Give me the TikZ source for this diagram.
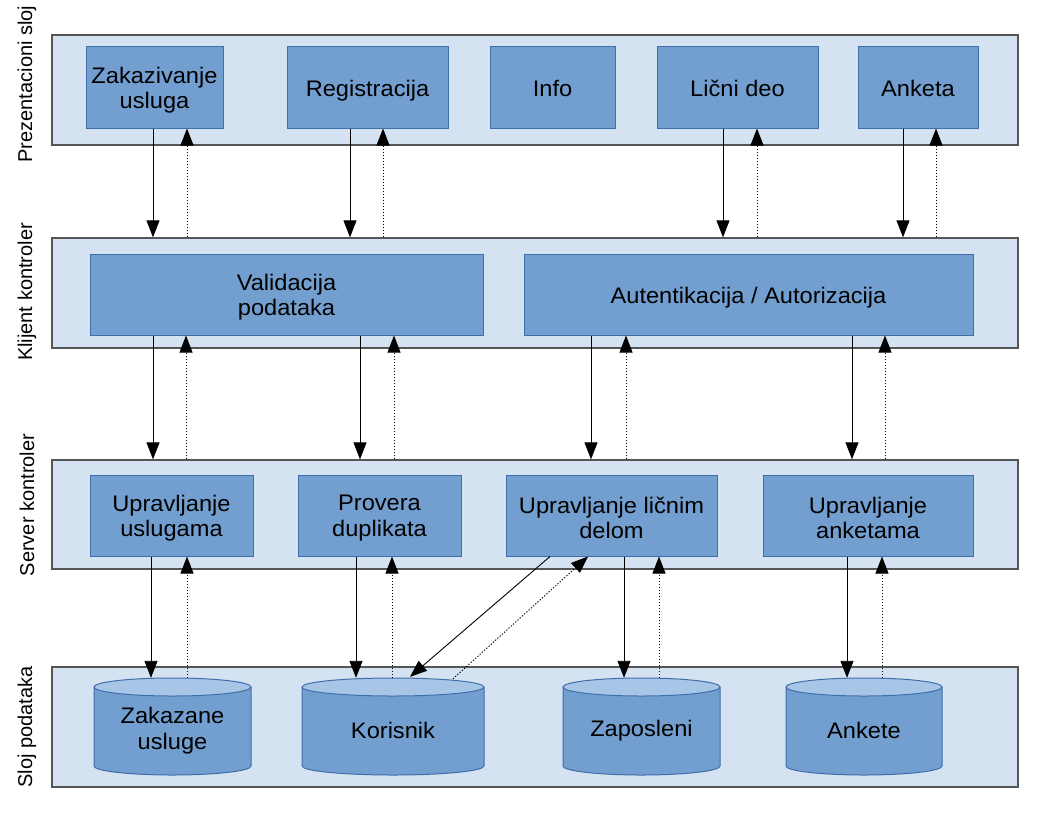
\documentclass[tikz,border=0pt]{standalone}
\usepackage{fontspec}
\setmainfont{Liberation Sans}[FakeStretch=1.05]
\newfontfamily\sidefont{Liberation Sans}
\usetikzlibrary{arrows.meta}
\definecolor{bandfill}{HTML}{D5E2F2}
\definecolor{bandline}{HTML}{555555}
\definecolor{boxfill}{HTML}{729FCF}
\definecolor{boxline}{HTML}{3F6FAA}
\definecolor{cyltop}{HTML}{A7C5E6}
\newcommand\dbcyl[4]{%
  \fill[boxfill] (#2-#3,687) -- (#2-#3,766) arc[start angle=180,end angle=0,x radius=#3,y radius=9] -- (#2+#3,687) -- cycle;
  \draw[boxline,line width=1pt] (#2-#3,687) -- (#2-#3,766) arc[start angle=180,end angle=0,x radius=#3,y radius=9] -- (#2+#3,687);
  \draw[boxline,line width=1pt,fill=cyltop] (#2,687) ellipse[x radius=#3,y radius=9];
  \node[cylnode,minimum width=2*#3] (#1) at (#2,730.5) {#4};
}
% multi-line box
\newcommand\bbox[4]{%
  \node[box,minimum width=#3] (#1) at (#2) {};
  \node[boxtext] (#1t) at ([yshift=-2.5pt]#1.center) {#4};
}
% single-line box
\newcommand\onebox[4]{%
  \node[box,minimum width=#3] (#1) at (#2) {};
  \node[boxtext,text height=17pt,text depth=5.5pt] (#1t) at ([yshift=-3.3pt]#1.center) {#4};
}
\newcommand\vpair[4]{%
  \coordinate (tmpS) at (#3,0);
  \coordinate (tmpD) at (#4,0);
  \draw[sarr] (#1.south -| tmpS) -- (#2.north -| tmpS);
  \draw[darr] (#2.north -| tmpD) -- (#1.south -| tmpD);
}
\begin{document}
\begin{tikzpicture}[x=1pt,y=-1pt,
  band/.style={draw=bandline,fill=bandfill,line width=1.3pt,inner sep=0,minimum width=966},
  box/.style={draw=boxline,fill=boxfill,line width=1pt,inner sep=0,minimum height=81},
  boxtext/.style={align=center,inner sep=0,font=\fontsize{22.5}{25.5}\selectfont},
  cylnode/.style={inner sep=0,minimum height=105,align=center,font=\fontsize{22.5}{25.5}\selectfont},
  side/.style={rotate=90,font=\sidefont\fontsize{20}{24}\selectfont},
  sarr/.style={-{Triangle[width=13pt,length=17pt]},line width=0.9pt},
  darr/.style={sarr,dash pattern=on 1.3pt off 1.7pt}]
\useasboundingbox (0,0) rectangle (1056,816);
\fill[white] (0,0) rectangle (1056,816);
% bands
\node[band,minimum height=110] (L1) at (535,90) {};
\node[band,minimum height=110] (L2) at (535,293) {};
\node[band,minimum height=109] (L3) at (535,514.5) {};
\node[band,minimum height=120] (L4) at (535,727) {};
% side labels
\node[side] (t1) at (27,84) {Prezentacioni sloj};
\node[side] (t2) at (27,292) {Klijent kontroler};
\node[side] (t3) at (27,505) {Server kontroler};
\node[side] (t4) at (27,727) {Sloj podataka};
% row 1
\bbox{p1}{154.5,87.5}{137}{Zakazivanje\\usluga}
\onebox{p2}{367.5,87.5}{161}{Registracija}
\onebox{p3}{552.5,87.5}{125}{Info}
\onebox{p4}{737.5,87.5}{161}{Lični deo}
\onebox{p5}{918,87.5}{120}{Anketa}
% row 2
\bbox{k1}{286.5,294.5}{393}{Validacija\\podataka}
\onebox{k2}{748.5,294.5}{449}{Autentikacija / Autorizacija}
% row 3
\bbox{s1}{171.5,515.5}{163}{Upravljanje\\uslugama}
\bbox{s2}{379.5,515.5}{163}{Provera\\duplikata}
\bbox{s3}{611.5,515.5}{211}{Upravljanje ličnim\\delom}
\bbox{s4}{868,515.5}{210}{Upravljanje\\anketama}
% row 4
\dbcyl{d1}{172.5}{78.5}{Zakazane\\usluge}
\dbcyl{d2}{393}{91}{Korisnik}
\dbcyl{d3}{641.5}{78.5}{Zaposleni}
\dbcyl{d4}{864}{78}{Ankete}
% arrows row1 -> band2
\vpair{p1}{L2}{153}{187}
\vpair{p2}{L2}{350}{383}
\vpair{p4}{L2}{723}{757}
\vpair{p5}{L2}{903}{936}
% arrows row2 -> band3
\vpair{k1}{L3}{153}{186}
\vpair{k1}{L3}{360}{394}
\vpair{k2}{L3}{591}{626}
\vpair{k2}{L3}{852}{885}
% arrows row3 -> data
\vpair{s1}{d1}{151}{187}
\vpair{s2}{d2}{356}{392}
\vpair{s3}{d3}{624}{659}
\vpair{s4}{d4}{847}{882}
% diagonal
\coordinate (ga) at (550,0);
\coordinate (gb) at (410,0);
\coordinate (gc) at (453,0);
\coordinate (gd) at (588,0);
\draw[sarr] (s3.south -| ga) -- ([yshift=1]d2.north -| gb);
\draw[darr] ([yshift=-1]d2.north -| gc) -- (s3.south -| gd);
\end{tikzpicture}
\end{document}
